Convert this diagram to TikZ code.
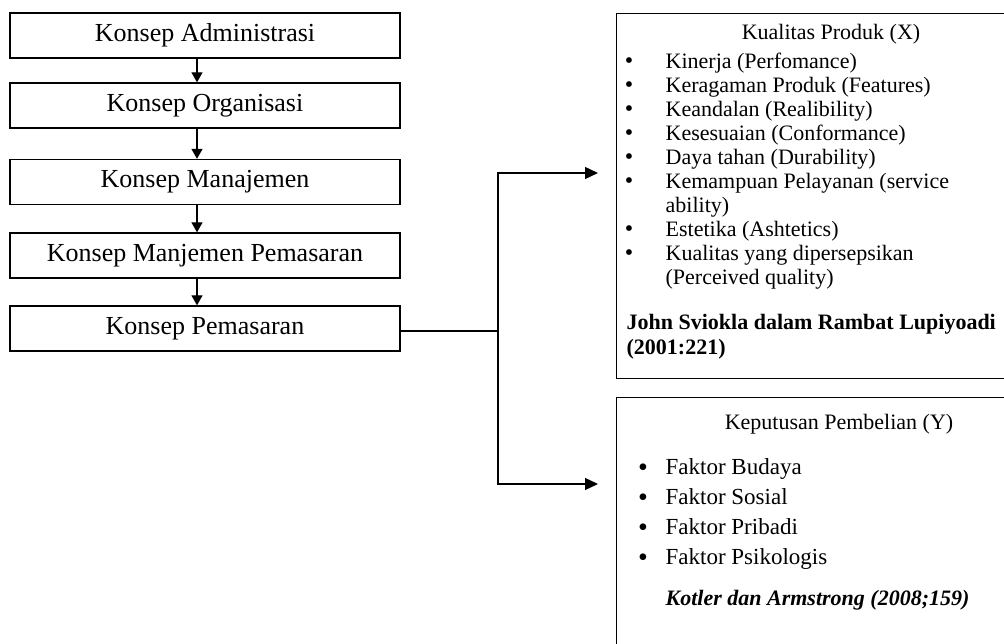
\documentclass[tikz,border=0pt]{standalone}
\usepackage{fontspec}
\setmainfont{Liberation Serif}
\usetikzlibrary{arrows.meta}
\begin{document}
\begin{tikzpicture}[x=1pt,y=-1pt,
  line width=1.3pt,
  leftbox/.style={draw, rectangle, minimum width=390pt, minimum height=45pt, inner sep=0pt,
    font=\fontsize{26}{28}\selectfont},
  rightbox/.style={draw, rectangle, anchor=north west, inner sep=0pt},
  down/.style={-{Triangle[length=10pt,width=11pt]}},
  side/.style={-{Triangle[length=13pt,width=12pt]}},
  head/.style={anchor=base, inner sep=0pt, font=\fontsize{22}{24}\selectfont},
  item/.style={anchor=base west, inner sep=0pt, font=\fontsize{22}{24}\selectfont},
  bul/.style={anchor=base, inner sep=0pt, font=\fontsize{24}{24}\selectfont},
  itemb/.style={anchor=base west, inner sep=0pt, font=\fontsize{23}{25}\selectfont},
  bulb/.style={anchor=base, inner sep=0pt, font=\fontsize{28}{28}\selectfont},
  src/.style={anchor=base west, inner sep=0pt, font=\fontsize{22}{24}\selectfont\bfseries}
]
\useasboundingbox (0,0) rectangle (1004,644);
\clip (0,0) rectangle (1004,644);

% left chain
\node[leftbox] (b1) at (205,35.5) {Konsep Administrasi};
\node[leftbox] (b2) at (205,105.5) {Konsep Organisasi};
\node[leftbox] (b3) at (205,182) {Konsep Manajemen};
\node[leftbox] (b4) at (205,255.5) {Konsep Manjemen Pemasaran};
\node[leftbox] (b5) at (205,328.5) {Konsep Pemasaran};

\draw[down] ([xshift=-8pt]b1.south) -- ([xshift=-8pt]b2.north);
\draw[down] ([xshift=-8pt]b2.south) -- ([xshift=-8pt]b3.north);
\draw[down] ([xshift=-8pt]b3.south) -- ([xshift=-8pt]b4.north);
\draw[down] ([xshift=-8pt]b4.south) -- ([xshift=-8pt]b5.north);

% right boxes
\node[rightbox, minimum width=400pt, minimum height=365pt] (r1) at (616,13) {};
\node[rightbox, minimum width=400pt, minimum height=270pt] (r2) at (616,397) {};

% connectors
\coordinate (j) at (498,331);
\coordinate (t1) at (598,173);
\coordinate (t2) at (598,484);
\draw (b5.east |- j) -- (j);
\draw[side] (j) |- (t1);
\draw[side] (j) |- (t2);

% text of box 1
\node[head] (h1) at (831,40) {Kualitas Produk (X)};
\foreach \y/\t [count=\i] in {69/Kinerja (Perfomance),
  93/Keragaman Produk (Features),
  117/Keandalan (Realibility),
  141/Kesesuaian (Conformance),
  165/Daya tahan (Durability),
  189/Kemampuan Pelayanan (service,
  237/Estetika (Ashtetics),
  261/Kualitas yang dipersepsikan}{
  \node[bul] (p\i) at (629,\y) {•};
  \node[item] (q\i) at (665,\y) {\t};
}
\node[item] (q9) at (665,213) {ability)};
\node[item] (q10) at (665,285) {(Perceived quality)};
\node[src] (s1) at (626,330) {John Sviokla dalam Rambat Lupiyoadi};
\node[src] (s2) at (626,354) {(2001:221)};

% text of box 2
\node[head] (h2) at (839,429) {Keputusan Pembelian (Y)};
\foreach \y/\t [count=\i] in {474/Faktor Budaya,
  504/Faktor Sosial,
  534/Faktor Pribadi,
  564/Faktor Psikologis}{
  \node[bulb] (u\i) at (643,\y+2) {•};
  \node[itemb] (v\i) at (665,\y) {\t};
}
\node[src, font=\fontsize{22}{24}\selectfont\bfseries\itshape] (s3) at (665,605) {Kotler dan Armstrong (2008;159)};
\end{tikzpicture}
\end{document}
